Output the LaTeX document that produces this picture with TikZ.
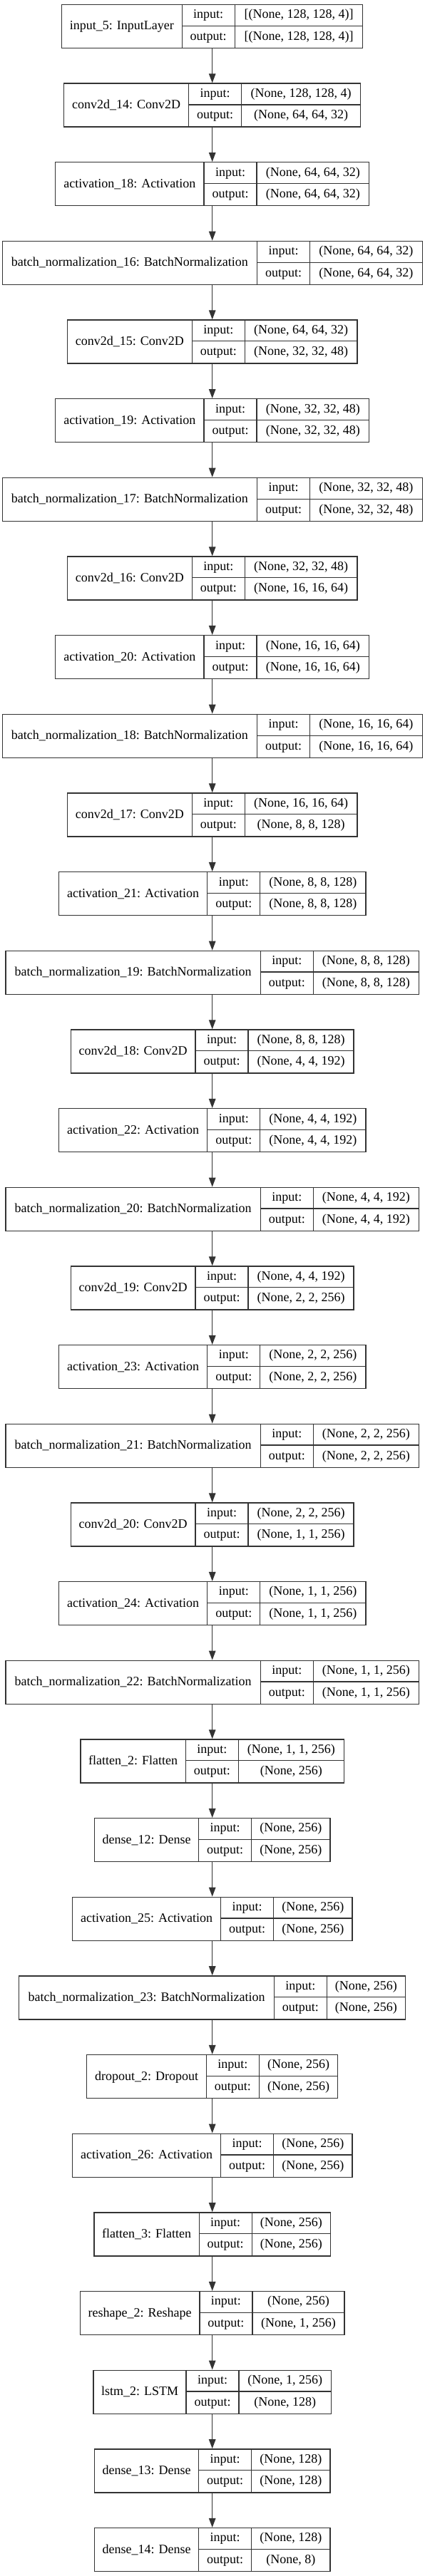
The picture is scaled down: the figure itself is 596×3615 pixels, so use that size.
\documentclass[tikz,border=0pt]{standalone}
\usepackage{fontspec}
\setmainfont{Liberation Serif}
\usetikzlibrary{arrows.meta}
\newlength\cwa \newlength\cwb \newlength\cwc \newlength\cwt
\newcommand\lfont{\fontsize{18}{20}\selectfont}
\tikzset{
 box/.style={draw=black!80, line width=1.3pt, inner sep=0pt, minimum height=61pt, anchor=north},
 sepline/.style={draw=black!80, line width=1.3pt},
 txt/.style={inner sep=0pt, anchor=base, font=\lfont, text=black},
 flow/.style={draw=black!80, line width=1.3pt, -{Triangle[length=13pt,width=9.5pt]}},
}
\newcommand\layer[5]{%
 \pgfinterruptpicture
 \sbox0{\lfont #3}\global\cwa=\wd0
 \sbox0{\lfont output:}\global\cwb=\wd0
 \sbox0{\lfont #4}\global\cwc=\wd0
 \sbox0{\lfont #5}\global\cwt=\wd0
 \endpgfinterruptpicture
 \ifdim\cwt>\cwc \cwc=\cwt\fi
 \pgfmathsetmacro\wl{1.0155*\cwa+20.4}%
 \pgfmathsetmacro\wm{\cwb+23}%
 \pgfmathsetmacro\wv{1.05*\cwc+19}%
 \pgfmathsetmacro\ytop{5.7+110.66*#2}%
 \pgfmathsetmacro\W{\wl+\wm+\wv}%
 \pgfmathsetmacro\xl{297.7-\W/2}%
 \pgfmathsetmacro\xa{\xl+\wl}%
 \pgfmathsetmacro\xb{\xa+\wm}%
 \pgfmathsetmacro\xr{297.7+\W/2}%
 \node[box, minimum width=\W pt] (#1) at (297.7,\ytop) {};
 \draw[sepline] (\xa,\ytop) -- (\xa,\ytop+61) (\xb,\ytop) -- (\xb,\ytop+61) (\xa,\ytop+30.5) -- (\xr,\ytop+30.5);
 \node[txt] (#1-l) at ({(\xl+\xa)/2},\ytop+36.2) {#3};
 \node[txt] (#1-i) at ({(\xa+\xb)/2},\ytop+20.05) {input:};
 \node[txt] (#1-o) at ({(\xa+\xb)/2},\ytop+50.55) {output:};
 \node[txt] (#1-iv) at ({(\xb+\xr)/2},\ytop+20.05) {#4};
 \node[txt] (#1-ov) at ({(\xb+\xr)/2},\ytop+50.55) {#5};
}
\begin{document}
\begin{tikzpicture}[x=1pt,y=-1pt]
\useasboundingbox[fill=white] (0,0) rectangle (596,3615);
\layer{L0}{0}{input\_5: InputLayer}{[(None, 128, 128, 4)]}{[(None, 128, 128, 4)]}
\layer{L1}{1}{conv2d\_14: Conv2D}{(None, 128, 128, 4)}{(None, 64, 64, 32)}
\layer{L2}{2}{activation\_18: Activation}{(None, 64, 64, 32)}{(None, 64, 64, 32)}
\layer{L3}{3}{batch\_normalization\_16: BatchNormalization}{(None, 64, 64, 32)}{(None, 64, 64, 32)}
\layer{L4}{4}{conv2d\_15: Conv2D}{(None, 64, 64, 32)}{(None, 32, 32, 48)}
\layer{L5}{5}{activation\_19: Activation}{(None, 32, 32, 48)}{(None, 32, 32, 48)}
\layer{L6}{6}{batch\_normalization\_17: BatchNormalization}{(None, 32, 32, 48)}{(None, 32, 32, 48)}
\layer{L7}{7}{conv2d\_16: Conv2D}{(None, 32, 32, 48)}{(None, 16, 16, 64)}
\layer{L8}{8}{activation\_20: Activation}{(None, 16, 16, 64)}{(None, 16, 16, 64)}
\layer{L9}{9}{batch\_normalization\_18: BatchNormalization}{(None, 16, 16, 64)}{(None, 16, 16, 64)}
\layer{L10}{10}{conv2d\_17: Conv2D}{(None, 16, 16, 64)}{(None, 8, 8, 128)}
\layer{L11}{11}{activation\_21: Activation}{(None, 8, 8, 128)}{(None, 8, 8, 128)}
\layer{L12}{12}{batch\_normalization\_19: BatchNormalization}{(None, 8, 8, 128)}{(None, 8, 8, 128)}
\layer{L13}{13}{conv2d\_18: Conv2D}{(None, 8, 8, 128)}{(None, 4, 4, 192)}
\layer{L14}{14}{activation\_22: Activation}{(None, 4, 4, 192)}{(None, 4, 4, 192)}
\layer{L15}{15}{batch\_normalization\_20: BatchNormalization}{(None, 4, 4, 192)}{(None, 4, 4, 192)}
\layer{L16}{16}{conv2d\_19: Conv2D}{(None, 4, 4, 192)}{(None, 2, 2, 256)}
\layer{L17}{17}{activation\_23: Activation}{(None, 2, 2, 256)}{(None, 2, 2, 256)}
\layer{L18}{18}{batch\_normalization\_21: BatchNormalization}{(None, 2, 2, 256)}{(None, 2, 2, 256)}
\layer{L19}{19}{conv2d\_20: Conv2D}{(None, 2, 2, 256)}{(None, 1, 1, 256)}
\layer{L20}{20}{activation\_24: Activation}{(None, 1, 1, 256)}{(None, 1, 1, 256)}
\layer{L21}{21}{batch\_normalization\_22: BatchNormalization}{(None, 1, 1, 256)}{(None, 1, 1, 256)}
\layer{L22}{22}{flatten\_2: Flatten}{(None, 1, 1, 256)}{(None, 256)}
\layer{L23}{23}{dense\_12: Dense}{(None, 256)}{(None, 256)}
\layer{L24}{24}{activation\_25: Activation}{(None, 256)}{(None, 256)}
\layer{L25}{25}{batch\_normalization\_23: BatchNormalization}{(None, 256)}{(None, 256)}
\layer{L26}{26}{dropout\_2: Dropout}{(None, 256)}{(None, 256)}
\layer{L27}{27}{activation\_26: Activation}{(None, 256)}{(None, 256)}
\layer{L28}{28}{flatten\_3: Flatten}{(None, 256)}{(None, 256)}
\layer{L29}{29}{reshape\_2: Reshape}{(None, 256)}{(None, 1, 256)}
\layer{L30}{30}{lstm\_2: LSTM}{(None, 1, 256)}{(None, 128)}
\layer{L31}{31}{dense\_13: Dense}{(None, 128)}{(None, 128)}
\layer{L32}{32}{dense\_14: Dense}{(None, 128)}{(None, 8)}
\foreach \i [evaluate=\i as \j using int(\i+1)] in {0,...,31}
  \draw[flow] (L\i.south) -- (L\j.north);
\end{tikzpicture}
\end{document}
